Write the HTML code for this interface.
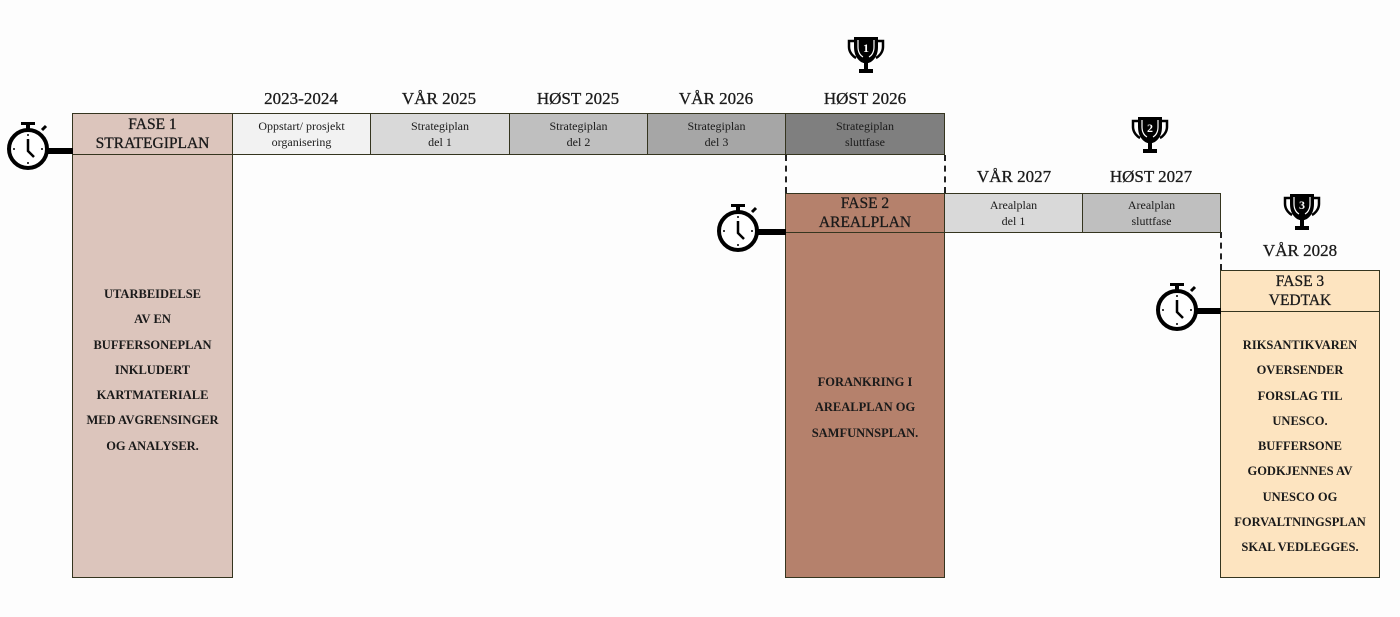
<!DOCTYPE html>
<html><head><meta charset="utf-8"><style>
body{margin:0;width:1400px;height:617px;background:#fdfdfd;position:relative;overflow:hidden;font-family:"Liberation Serif",serif;color:#1a1a1a}
.b{position:absolute;box-sizing:border-box;border:1.8px solid #35351f;text-align:center}
.c{font-size:12px;line-height:16px;display:flex;align-items:center;justify-content:center;flex-direction:column}
.h{font-size:15.5px;line-height:19px;display:flex;align-items:center;justify-content:center;flex-direction:column;-webkit-text-stroke:0.3px #1a1a1a}
.y{position:absolute;font-size:17px;text-align:center;width:160px;-webkit-text-stroke:0.3px #1a1a1a}
.t{position:absolute;font-size:12.5px;font-weight:bold;text-align:center;line-height:25.3px}
.d{position:absolute;border-left:2px dashed #222;width:0}
.bar{position:absolute;height:6px;background:#000}
</style></head><body>
<div class="y" style="left:221px;top:89px">2023-2024</div>
<div class="y" style="left:359px;top:89px">VÅR 2025</div>
<div class="y" style="left:498px;top:89px">HØST 2025</div>
<div class="y" style="left:636px;top:89px">VÅR 2026</div>
<div class="y" style="left:785px;top:89px">HØST 2026</div>
<div class="y" style="left:934px;top:167px">VÅR 2027</div>
<div class="y" style="left:1071px;top:167px">HØST 2027</div>
<div class="y" style="left:1220px;top:241px">VÅR 2028</div>

<div class="b" style="left:72px;top:113px;width:161px;height:465px;background:#dcc5bc"></div>
<div class="b h" style="left:72px;top:113px;width:161px;height:42px;background:#dcc5bc">FASE 1<br>STRATEGIPLAN</div>
<div class="t" style="left:72px;top:282px;width:161px">UTARBEIDELSE<br>AV EN<br>BUFFERSONEPLAN<br>INKLUDERT<br>KARTMATERIALE<br>MED AVGRENSINGER<br>OG ANALYSER.</div>
<div class="b c" style="left:232px;top:113px;width:139px;height:42px;background:#f2f2f2">Oppstart/ prosjekt<br>organisering</div>
<div class="b c" style="left:370px;top:113px;width:140px;height:42px;background:#d9d9d9">Strategiplan<br>del 1</div>
<div class="b c" style="left:509px;top:113px;width:139px;height:42px;background:#bfbfbf">Strategiplan<br>del 2</div>
<div class="b c" style="left:647px;top:113px;width:139px;height:42px;background:#a6a6a6">Strategiplan<br>del 3</div>
<div class="b c" style="left:785px;top:113px;width:160px;height:42px;background:#7f7f7f">Strategiplan<br>sluttfase</div>

<div class="d" style="left:785px;top:155px;height:38px"></div>
<div class="d" style="left:944px;top:155px;height:38px"></div>
<div class="d" style="left:1220px;top:232px;height:38px"></div>

<div class="b" style="left:785px;top:193px;width:160px;height:385px;background:#b5816c"></div>
<div class="b h" style="left:785px;top:193px;width:160px;height:40px;background:#b5816c">FASE 2<br>AREALPLAN</div>
<div class="t" style="left:785px;top:370px;width:160px">FORANKRING I<br>AREALPLAN OG<br>SAMFUNNSPLAN.</div>
<div class="b c" style="left:944px;top:193px;width:139px;height:40px;background:#d9d9d9">Arealplan<br>del 1</div>
<div class="b c" style="left:1082px;top:193px;width:139px;height:40px;background:#bfbfbf">Arealplan<br>sluttfase</div>

<div class="b" style="left:1220px;top:270px;width:160px;height:308px;background:#fde4c0"></div>
<div class="b h" style="left:1220px;top:270px;width:160px;height:42px;background:#fde4c0">FASE 3<br>VEDTAK</div>
<div class="t" style="left:1220px;top:333px;width:160px">RIKSANTIKVAREN<br>OVERSENDER<br>FORSLAG TIL<br>UNESCO.<br>BUFFERSONE<br>GODKJENNES AV<br>UNESCO OG<br>FORVALTNINGSPLAN<br>SKAL VEDLEGGES.</div>

<svg width="0" height="0" style="position:absolute"><defs>
<g id="sw"><rect x="-7" y="-27" width="14" height="3" fill="#000"/><rect x="-2" y="-25" width="4" height="6" fill="#000"/><line x1="14" y1="-19" x2="18" y2="-23" stroke="#000" stroke-width="3"/><circle cx="0" cy="0" r="19" fill="#fff" stroke="#000" stroke-width="4"/><path d="M0,-10 V2 L6,8" fill="none" stroke="#000" stroke-width="2.5"/><circle cx="0" cy="-14" r="1" fill="#000"/><circle cx="0" cy="14" r="1" fill="#000"/><circle cx="-14" cy="0" r="1" fill="#000"/><circle cx="14" cy="0" r="1" fill="#000"/></g>
<g id="tr"><path d="M-12,-18 H12 V-8 C12,4 4,8 2,8 V14 H7 V18 H-7 V14 H-2 V8 C-4,8 -12,4 -12,-8 Z" fill="#000"/><path d="M-12,-14 H-17 V-8 C-17,-2 -12,2 -10,3 M12,-14 H17 V-8 C17,-2 12,2 10,3" fill="none" stroke="#000" stroke-width="2.5"/><path d="M-8,-15 V-8 C-8,-2 -5,1 -3,2 M8,-15 V-8 C8,-2 5,1 3,2" fill="none" stroke="#fff" stroke-width="1.2"/></g>
</defs></svg>
<div class="bar" style="left:44px;top:148px;width:29px"></div>
<svg style="position:absolute;left:0;top:118px" width="60" height="60"><use href="#sw" x="28" y="31"/></svg>
<div class="bar" style="left:757px;top:229px;width:29px"></div>
<svg style="position:absolute;left:710px;top:199px" width="60" height="60"><use href="#sw" x="28" y="32"/></svg>
<div class="bar" style="left:1194px;top:308px;width:27px"></div>
<svg style="position:absolute;left:1149px;top:278px" width="60" height="60"><use href="#sw" x="28" y="32"/></svg>

<svg style="position:absolute;left:846px;top:33px" width="40" height="45"><use href="#tr" x="20" y="22"/><text x="20" y="19" font-size="12" font-weight="bold" text-anchor="middle" fill="#fff" font-family="Liberation Serif">1</text></svg>
<svg style="position:absolute;left:1130px;top:113px" width="40" height="45"><use href="#tr" x="20" y="22"/><text x="20" y="19" font-size="12" font-weight="bold" text-anchor="middle" fill="#fff" font-family="Liberation Serif">2</text></svg>
<svg style="position:absolute;left:1282px;top:190px" width="40" height="45"><use href="#tr" x="20" y="22"/><text x="20" y="19" font-size="12" font-weight="bold" text-anchor="middle" fill="#fff" font-family="Liberation Serif">3</text></svg>
</body></html>
